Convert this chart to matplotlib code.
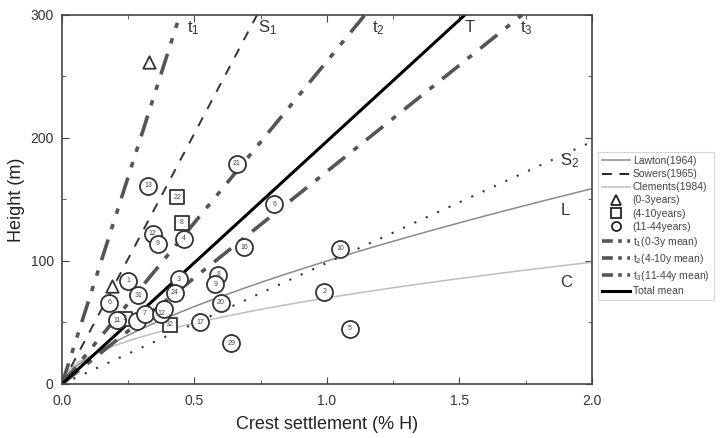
import numpy as np
import matplotlib.pyplot as plt
from matplotlib.lines import Line2D

plt.rcParams['font.family'] = ['Liberation Sans', 'DejaVu Sans']

# mean trend lines: settlement (% H) at the top of the plot (H = 300 m)
t1_top = 0.445
s1_top = 0.736
t2_top = 1.143
total_top = 1.52
t3_top = 1.736
s2_at_2 = 197      # Sowers lower bound, height at 2.0 % H

# empirical curves: H = a * x ** b
lawton_a, lawton_b = 100.0, 0.667
clements_a, clements_b = 70.0, 0.5

# case records (0-3 years)
tri_x = [0.33, 0.19]
tri_h = [262, 80]

# case records (4-10 years)
sq_x = [0.435, 0.452, 0.238, 0.408]
sq_h = [152, 131, 53, 48]
sq_lbl = ['22', '8', '3', '32']

# case records (11-44 years)
circ_x = [0.659, 0.326, 0.801, 0.342, 0.361, 0.460, 0.688, 1.049, 0.250,
          0.590, 0.579, 0.442, 0.288, 0.426, 0.179, 0.990, 0.600, 0.209,
          0.282, 0.313, 0.374, 0.385, 0.521, 0.639, 1.087]
circ_h = [179, 161, 146, 122, 114, 118, 111, 110, 84,
          89, 81, 85, 72, 74, 66, 75, 66, 52,
          51, 57, 57, 61, 50, 33, 45]
circ_lbl = ['21', '13', '6', '12', '9', '4', '16', '10', '1',
            '8', '9', '3', '31', '24', '6', '2', '20', '11',
            '', '7', '12', '', '17', '29', '5']

fig = plt.figure(figsize=(7.25, 4.38), dpi=100)
ax = fig.add_axes([0.0855, 0.1233, 0.731, 0.8425])

h = np.linspace(0, 300, 200)
xs = np.linspace(0, 2.0, 400)
grey = '#555555'

ax.plot(xs, lawton_a * xs ** lawton_b, color='#8a8a8a', lw=1.1)
ax.plot(xs, clements_a * xs ** clements_b, color='#bdbdbd', lw=1.1)
ax.plot(xs, s2_at_2 / 2.0 * xs, color='#333333', lw=1.5, ls=(0, (1, 5)))
ax.plot(h * s1_top / 300, h, color='#333333', lw=1.4, ls=(0, (5, 5)))
ax.plot(h * t1_top / 300, h, color=grey, lw=2.6, ls=(0, (6, 3, 1.5, 3, 1.5, 3)))
ax.plot(h * t2_top / 300, h, color=grey, lw=2.6, ls=(0, (6, 3, 1.5, 3, 1.5, 3)))
ax.plot(h * t3_top / 300, h, color=grey, lw=2.6, ls=(0, (6, 3, 1.5, 3)))
ax.plot(h * total_top / 300, h, color='black', lw=2.2)

mk = dict(facecolor='white', edgecolor='#333333', linewidths=1.3, zorder=5)
ax.scatter(tri_x, tri_h, marker='^', s=80, **mk)
ax.scatter(sq_x, sq_h, marker='s', s=110, **mk)
ax.scatter(circ_x, circ_h, marker='o', s=150, **mk)
for x, y, t in zip(sq_x + circ_x, sq_h + circ_h, sq_lbl + circ_lbl):
    ax.text(x, y, t, fontsize=5, ha='center', va='center', color='#444444', zorder=6)

lbl = dict(fontsize=12, color='#333333')
ax.text(0.47, 286, '$\\mathregular{t_1}$', **lbl)
ax.text(0.74, 286, '$\\mathregular{S_1}$', **lbl)
ax.text(1.17, 286, '$\\mathregular{t_2}$', **lbl)
ax.text(1.52, 286, 'T', **lbl)
ax.text(1.73, 286, '$\\mathregular{t_3}$', **lbl)
ax.text(1.88, 178, '$\\mathregular{S_2}$', **lbl)
ax.text(1.88, 137, 'L', **lbl)
ax.text(1.88, 79, 'C', **lbl)

ax.set_xlim(0, 2.0)
ax.set_ylim(0, 300)
ax.set_xticks([0, 0.5, 1.0, 1.5, 2.0])
ax.set_xticks([0.25, 0.75, 1.25, 1.75], minor=True)
ax.set_yticks([0, 100, 200, 300])
ax.set_yticks([50, 150, 250], minor=True)
ax.tick_params(which='both', direction='in', top=True, right=True,
               labelsize=10, labelcolor='#333333', color='#444444')
ax.tick_params(which='major', length=5)
ax.tick_params(which='minor', length=3)
ax.tick_params(axis='x', pad=7)
ax.tick_params(axis='y', pad=6)
for sp in ax.spines.values():
    sp.set_color('#444444')
    sp.set_linewidth(1.2)
ax.set_xlabel('Crest settlement (% H)', fontsize=13, color='#222222', labelpad=6)
ax.set_ylabel('Height (m)', fontsize=13, color='#222222')

mkh = dict(ls='', ms=6.5, mfc='white', mec='#222222', mew=1.3)
handles = [
    Line2D([], [], color='#8a8a8a', lw=1.1),
    Line2D([], [], color='#222222', lw=1.4, ls=(0, (5, 4))),
    Line2D([], [], color='#bdbdbd', lw=1.1),
    Line2D([], [], marker='^', **mkh),
    Line2D([], [], marker='s', **mkh),
    Line2D([], [], marker='o', **mkh),
    Line2D([], [], color=grey, lw=2.6, ls=(0, (3, 1.5, 1, 1.5))),
    Line2D([], [], color=grey, lw=2.6, ls=(0, (3, 1.5, 1, 1.5))),
    Line2D([], [], color=grey, lw=2.6, ls=(0, (3, 1.5, 1, 1.5))),
    Line2D([], [], color='black', lw=2.2),
]
labels = ['Lawton(1964)', 'Sowers(1965)', 'Clements(1984)', '(0-3years)',
          '(4-10years)', '(11-44years)', 't$_1$(0-3y mean)', 't$_2$(4-10y mean)',
          't$_3$(11-44y mean)', 'Total mean']
leg = fig.legend(handles, labels, loc='upper left', bbox_to_anchor=(0.818, 0.665),
                 fontsize=7.5, frameon=True, fancybox=False, handlelength=2.6,
                 handletextpad=0.3, labelspacing=0.3, borderpad=0.4,
                 labelcolor='#444444')
leg.get_frame().set_edgecolor('#cccccc')
leg.get_frame().set_linewidth(0.8)

fig.savefig('out.png', dpi=100)
